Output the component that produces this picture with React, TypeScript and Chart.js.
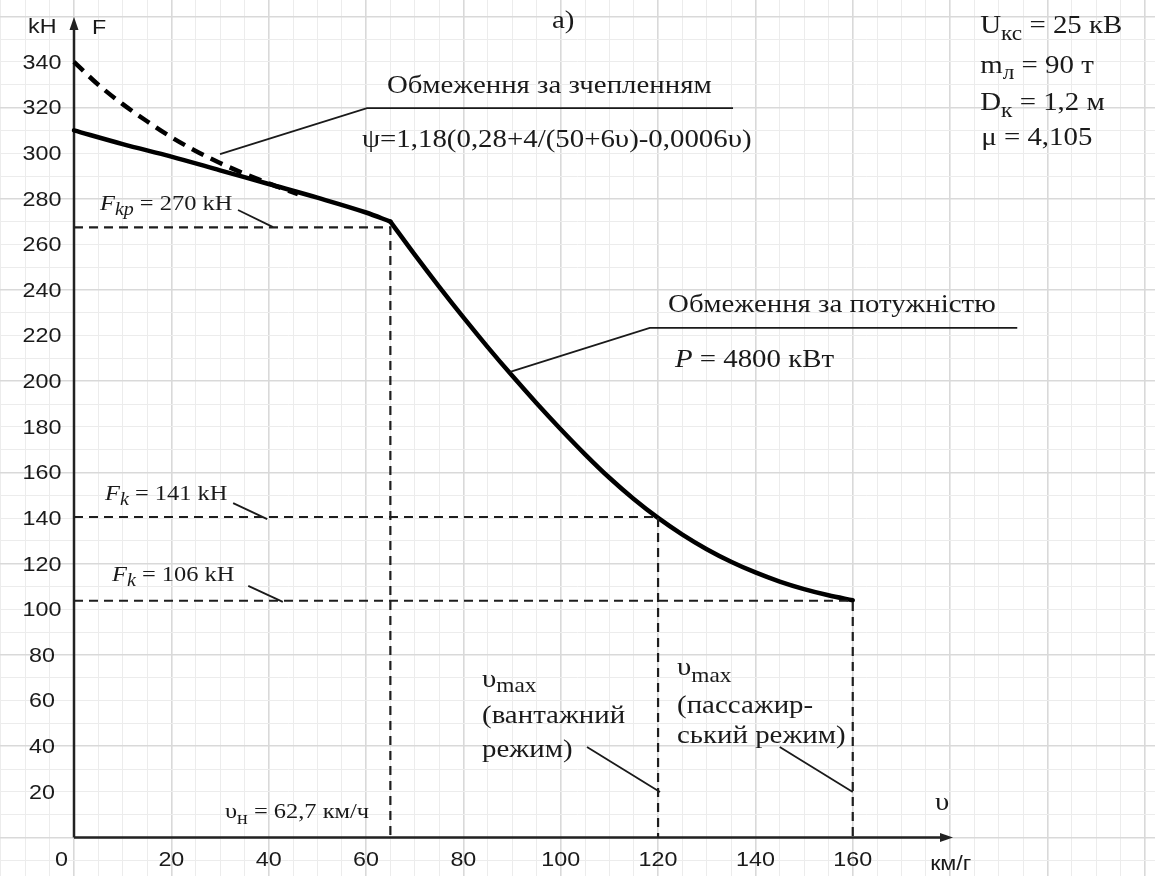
import { useEffect, useRef } from 'react';
import { Chart, registerables } from 'chart.js';

Chart.register(...registerables);

// ---------------- data ----------------
const xTickLabels = [0, 20, 40, 60, 80, 100, 120, 140, 160];
const yTickLabels = [20, 40, 60, 80, 100, 120, 140, 160, 180, 200, 220, 240, 260, 280, 300, 320, 340];

// adhesion limit (solid)
const adhesionSpeed = [0, 10, 20, 30, 40, 50, 60, 65];
const adhesionForce = [310, 304, 298.5, 292.5, 286.5, 280.5, 274, 270];

// adhesion limit continued (dashed, low speed)
const adhesionDashSpeed = [0, 5, 10, 15, 20, 25, 30, 35, 40, 46];
const adhesionDashForce = [340, 330, 321.5, 314, 307, 301, 295.7, 291, 286.8, 282];

// power limit
const powerSpeed = [65, 70, 75, 80, 85, 90, 95, 100, 105, 110, 115, 120, 125, 130, 135, 140, 145, 150, 155, 160];
const powerForce = [270, 255.5, 241.5, 228, 215, 202.5, 190.5, 179, 168, 157.7, 148.4, 140.1, 132.8, 126.4, 120.9, 116.2, 112.2, 108.9, 106.2, 104];

// reference dashed lines
const fkpSpeed = [0, 65, 65];
const fkpForce = [267.5, 267.5, 0];
const fk141Speed = [0, 120, 120];
const fk141Force = [140.5, 140.5, 0];
const fk106Speed = [0, 160, 160];
const fk106Force = [103.8, 103.8, 0];

// leader lines
const leadAdhesionSpeed = [30, 60.2, 135.4];
const leadAdhesionForce = [299.6, 319.8, 319.8];
const leadFkpSpeed = [33.7, 40.9];
const leadFkpForce = [275.1, 267.6];
const leadFk141Speed = [32.7, 39.7];
const leadFk141Force = [146.6, 139.6];
const leadFk106Speed = [35.8, 42.9];
const leadFk106Force = [110.3, 103.3];
const leadPowerSpeed = [89.6, 118.3, 193.8];
const leadPowerForce = [204.1, 223.4, 223.4];
const leadCargoSpeed = [105.4, 120.4];
const leadCargoForce = [39.7, 19.9];
const leadPassSpeed = [145, 160];
const leadPassForce = [39.7, 19.9];

// axis extents
const X_MIN = -15.204;
const X_MAX = 222.1;
const Y_MIN = -16.88;
const Y_MAX = 367.16;
const X_AXIS_END = 180.6;
const Y_AXIS_END = 359.7;

// ---------------- styling helpers ----------------
const SERIF = '"Liberation Serif", "Times New Roman", serif';
const SANS = '"Liberation Sans", Arial, sans-serif';
const SX = 1.11;
const INK = '#1a1a1a';

type Seg = { t: string; i?: boolean; sub?: boolean };
type Label = { v: number; f: number; segs: Seg[]; size: number; family: string; subDy?: number };

const labels: Label[] = [
  { v: -9.45, f: 352.7, segs: [{ t: 'kH' }], size: 21, family: SANS },
  { v: 3.7, f: 352.3, segs: [{ t: 'F' }], size: 21, family: SANS },
  { v: 98.2, f: 354.9, segs: [{ t: 'а)' }], size: 26, family: SERIF },
  { v: 64.31, f: 326.4, segs: [{ t: 'Обмеження за зчепленням' }], size: 26, family: SERIF },
  { v: 59.17, f: 302.7, segs: [{ t: 'ψ=1,18(0,28+4/(50+6υ)-0,0006υ)' }], size: 26, family: SERIF },
  { v: 5.34, f: 275.1, segs: [{ t: 'F', i: true }, { t: 'kp', i: true, sub: true }, { t: ' = 270 kH' }], size: 22, family: SERIF, subDy: 5 },
  { v: 6.37, f: 148.0, segs: [{ t: 'F', i: true }, { t: 'k', i: true, sub: true }, { t: ' = 141 kH' }], size: 22, family: SERIF, subDy: 5 },
  { v: 7.81, f: 112.5, segs: [{ t: 'F', i: true }, { t: 'k', i: true, sub: true }, { t: ' = 106 kH' }], size: 22, family: SERIF, subDy: 5 },
  { v: 122.05, f: 230.4, segs: [{ t: 'Обмеження за потужністю' }], size: 26, family: SERIF },
  { v: 123.46, f: 206.3, segs: [{ t: 'P', i: true }, { t: ' = 4800 кВт' }], size: 26, family: SERIF },
  { v: 186.2, f: 352.7, segs: [{ t: 'U' }, { t: 'кс', sub: true }, { t: ' = 25 кВ' }], size: 26, family: SERIF, subDy: 7 },
  { v: 186.2, f: 335.2, segs: [{ t: 'm' }, { t: 'л', sub: true }, { t: ' = 90 т' }], size: 26, family: SERIF, subDy: 6 },
  { v: 186.2, f: 319.0, segs: [{ t: 'D' }, { t: 'к', sub: true }, { t: ' = 1,2 м' }], size: 26, family: SERIF, subDy: 7 },
  { v: 186.4, f: 303.6, segs: [{ t: 'μ = 4,105' }], size: 26, family: SERIF },
  { v: 83.83, f: 66.0, segs: [{ t: 'υ' }, { t: 'max', sub: true }], size: 26, family: SERIF, subDy: 5 },
  { v: 83.83, f: 50.2, segs: [{ t: '(вантажний' }], size: 26, family: SERIF },
  { v: 83.83, f: 35.3, segs: [{ t: 'режим)' }], size: 26, family: SERIF },
  { v: 123.9, f: 71.2, segs: [{ t: 'υ' }, { t: 'max', sub: true }], size: 26, family: SERIF, subDy: 7 },
  { v: 123.9, f: 54.6, segs: [{ t: '(пассажир-' }], size: 26, family: SERIF },
  { v: 123.9, f: 41.4, segs: [{ t: 'ський режим)' }], size: 26, family: SERIF },
  { v: 31.03, f: 8.5, segs: [{ t: 'υ' }, { t: 'н', sub: true }, { t: ' = 62,7 км/ч' }], size: 22, family: SERIF, subDy: 6 },
  { v: 176.9, f: 12.1, segs: [{ t: 'υ' }], size: 26, family: SERIF },
  { v: 175.9, f: -14.2, segs: [{ t: 'км/г' }], size: 21, family: SANS },
];

function drawRich(ctx: CanvasRenderingContext2D, l: Label, x: number, y: number) {
  ctx.save();
  ctx.translate(x, y);
  ctx.scale(SX, 1);
  ctx.textAlign = 'left';
  ctx.textBaseline = 'alphabetic';
  ctx.fillStyle = INK;
  let cx = 0;
  for (const s of l.segs) {
    const fs = s.sub ? Math.round(l.size * 0.82) : l.size;
    ctx.font = `${s.i ? 'italic ' : ''}${fs}px ${l.family}`;
    ctx.fillText(s.t, cx, s.sub ? (l.subDy ?? 6) : 0);
    cx += ctx.measureText(s.t).width;
  }
  ctx.restore();
}

function drawStretched(ctx: CanvasRenderingContext2D, t: string, x: number, y: number, align: CanvasTextAlign) {
  ctx.save();
  ctx.translate(x, y);
  ctx.scale(SX, 1);
  ctx.textAlign = align;
  ctx.textBaseline = 'middle';
  ctx.fillText(t, 0, 0);
  ctx.restore();
}

const isMultiple = (v: number | undefined, m: number) =>
  v !== undefined && Math.abs(v / m - Math.round(v / m)) < 1e-6;

const pts = (xs: number[], ys: number[]) => xs.map((x, i) => ({ x, y: ys[i] }));

const axesPlugin = {
  id: 'axesPlugin',
  beforeDatasetsDraw(chart: any) {
    const { ctx, scales } = chart;
    const xs = scales.x;
    const ys = scales.y;
    const x0 = xs.getPixelForValue(0);
    const y0 = ys.getPixelForValue(0);
    const yTop = ys.getPixelForValue(Y_AXIS_END);
    const xEnd = xs.getPixelForValue(X_AXIS_END);
    ctx.save();
    ctx.strokeStyle = '#222';
    ctx.fillStyle = '#222';
    ctx.lineWidth = 2.5;
    ctx.beginPath();
    ctx.moveTo(x0, y0);
    ctx.lineTo(x0, yTop + 8);
    ctx.moveTo(x0, y0);
    ctx.lineTo(xEnd - 8, y0);
    ctx.stroke();
    ctx.beginPath();
    ctx.moveTo(x0, yTop);
    ctx.lineTo(x0 - 4.5, yTop + 13);
    ctx.lineTo(x0 + 4.5, yTop + 13);
    ctx.closePath();
    ctx.fill();
    ctx.beginPath();
    ctx.moveTo(xEnd, y0);
    ctx.lineTo(xEnd - 13, y0 - 4.5);
    ctx.lineTo(xEnd - 13, y0 + 4.5);
    ctx.closePath();
    ctx.fill();
    ctx.restore();
  },
  afterDatasetsDraw(chart: any) {
    const { ctx, scales } = chart;
    const xs = scales.x;
    const ys = scales.y;
    const x0 = xs.getPixelForValue(0);
    const y0 = ys.getPixelForValue(0);
    ctx.save();
    ctx.fillStyle = INK;
    ctx.font = `21px ${SANS}`;
    for (const v of yTickLabels) {
      drawStretched(ctx, String(v), x0 - 32, ys.getPixelForValue(v) + 1, 'center');
    }
    for (const v of xTickLabels) {
      if (v === 0) drawStretched(ctx, '0', x0 - 6, y0 + 23, 'right');
      else drawStretched(ctx, String(v), xs.getPixelForValue(v), y0 + 23, 'center');
    }
    for (const l of labels) {
      drawRich(ctx, l, xs.getPixelForValue(l.v), ys.getPixelForValue(l.f));
    }
    ctx.restore();
  },
};

export default function App() {
  const ref = useRef<HTMLCanvasElement | null>(null);

  useEffect(() => {
    if (!ref.current) return;
    const thinDash = {
      borderColor: '#1e1e1e',
      borderWidth: 2.2,
      borderDash: [9, 6],
      pointRadius: 0,
      showLine: true,
      fill: false,
    };
    const leader = {
      borderColor: INK,
      borderWidth: 1.8,
      pointRadius: 0,
      showLine: true,
      fill: false,
    };
    const thick = {
      borderColor: '#000',
      borderWidth: 4.5,
      pointRadius: 0,
      showLine: true,
      fill: false,
      borderJoinStyle: 'round' as const,
      borderCapStyle: 'round' as const,
    };
    const chart = new Chart(ref.current, {
      type: 'scatter',
      data: {
        datasets: [
          { ...thinDash, label: 'Fkp', data: pts(fkpSpeed, fkpForce) },
          { ...thinDash, label: 'Fk141', data: pts(fk141Speed, fk141Force) },
          { ...thinDash, label: 'Fk106', data: pts(fk106Speed, fk106Force) },
          { ...leader, label: 'l1', data: pts(leadAdhesionSpeed, leadAdhesionForce) },
          { ...leader, label: 'l2', data: pts(leadFkpSpeed, leadFkpForce) },
          { ...leader, label: 'l3', data: pts(leadFk141Speed, leadFk141Force) },
          { ...leader, label: 'l4', data: pts(leadFk106Speed, leadFk106Force) },
          { ...leader, label: 'l5', data: pts(leadPowerSpeed, leadPowerForce) },
          { ...leader, label: 'l6', data: pts(leadCargoSpeed, leadCargoForce) },
          { ...leader, label: 'l7', data: pts(leadPassSpeed, leadPassForce) },
          {
            ...thick,
            label: 'Adhesion dashed',
            data: pts(adhesionDashSpeed, adhesionDashForce),
            borderDash: [13, 8],
            borderCapStyle: 'butt' as const,
            cubicInterpolationMode: 'monotone' as const,
          },
          { ...thick, label: 'Adhesion', data: pts(adhesionSpeed, adhesionForce), cubicInterpolationMode: 'monotone' as const },
          { ...thick, label: 'Power', data: pts(powerSpeed, powerForce), cubicInterpolationMode: 'monotone' as const },
        ],
      },
      options: {
        animation: false,
        responsive: false,
        maintainAspectRatio: false,
        layout: { padding: 0, autoPadding: false },
        plugins: { legend: { display: false }, tooltip: { enabled: false }, title: { display: false } },
        events: [],
        scales: {
          x: {
            type: 'linear',
            min: X_MIN,
            max: X_MAX,
            border: { display: false },
            ticks: { display: false, stepSize: 5, includeBounds: false, autoSkip: false, maxTicksLimit: 1000 },
            grid: {
              drawTicks: false,
              color: (c: any) => (isMultiple(c.tick?.value, 20) ? '#d9d9d9' : '#ececec'),
              lineWidth: (c: any) => (isMultiple(c.tick?.value, 20) ? 1.6 : 1),
            },
          },
          y: {
            type: 'linear',
            min: Y_MIN,
            max: Y_MAX,
            border: { display: false },
            ticks: { display: false, stepSize: 10, includeBounds: false, autoSkip: false, maxTicksLimit: 1000 },
            grid: {
              drawTicks: false,
              color: (c: any) => (isMultiple(c.tick?.value, 40) ? '#d9d9d9' : '#ececec'),
              lineWidth: (c: any) => (isMultiple(c.tick?.value, 40) ? 1.6 : 1),
            },
          },
        },
      },
      plugins: [axesPlugin],
    });
    return () => chart.destroy();
  }, []);

  return (
    <div style={{ position: 'fixed', left: 0, top: 0, width: 1155, height: 876, background: '#fff' }}>
      <canvas ref={ref} width={1155} height={876} style={{ display: 'block' }} />
    </div>
  );
}
